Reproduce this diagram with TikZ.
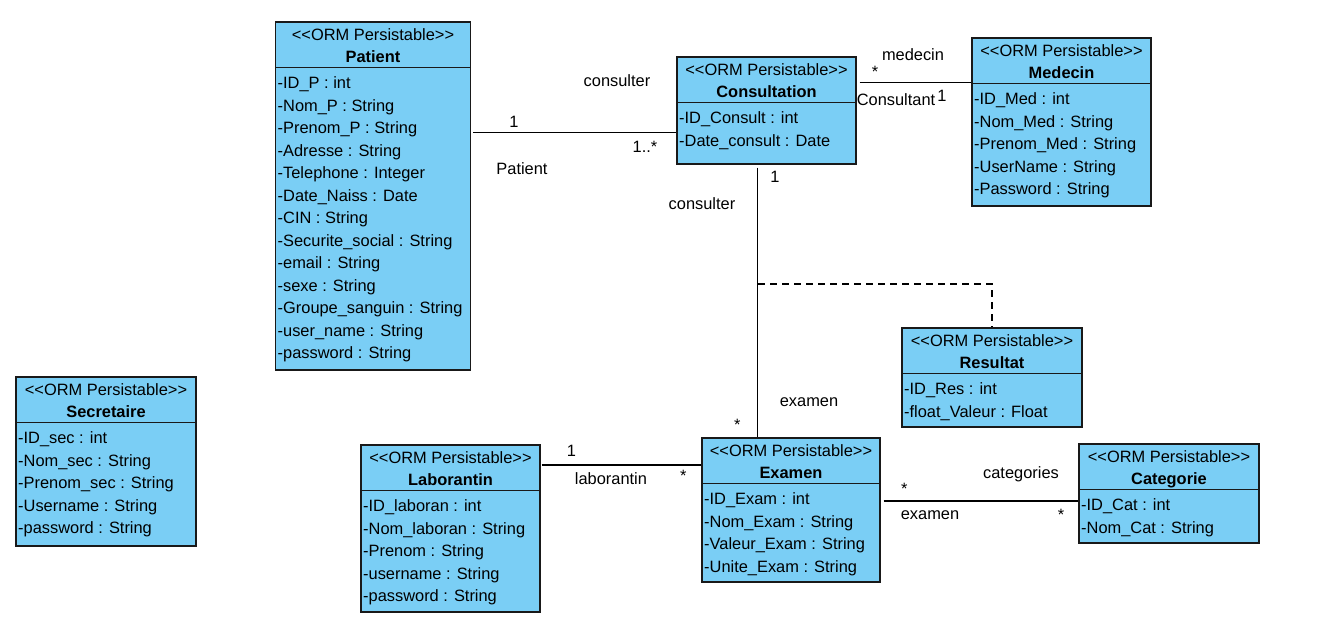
\documentclass[tikz,border=0pt]{standalone}
\usepackage{fontspec}
\setmainfont{Liberation Sans}[Ligatures=TeXOff]
\usetikzlibrary{fit,calc}
\definecolor{clsfill}{RGB}{122,206,245}
\definecolor{clsdraw}{RGB}{25,25,25}
\newcommand{\lblfont}{\fontsize{16.4}{20}\selectfont}
\tikzset{
  clsbox/.style={draw=clsdraw, fill=clsfill, line width=1.4pt, inner sep=0pt, rectangle},
  clsline/.style={draw=clsdraw, line width=1.4pt},
  txt/.style={inner sep=0pt, font=\lblfont, anchor=base},
  assoc/.style={draw=black, line width=1.4pt},
  dashline/.style={draw=black, line width=1.3pt, dash pattern=on 7pt off 5pt}
}
\newcommand{\umlcls}[7]{%
  \node[clsbox, fit={(#2,#3) (#4,#5)}] (#1) {};
  \draw[clsline] (#2,#3+45.5) -- (#4,#3+45.5);
  \node[txt] (#1-st) at ($(#1.north)+(0,19.5)$) {<<ORM Persistable>>};
  \node[txt, font=\lblfont\bfseries] (#1-nm) at ($(#1.north)+(0,41)$) {#6};
  \foreach \a [count=\i] in {#7} {%
    \node[txt, anchor=base west] (#1-a\i) at (#2+2, #3+66.5+\i*22.5-22.5) {\a};}%
}
\begin{document}
\begin{tikzpicture}[x=1pt, y=-1pt]
\useasboundingbox (0,0) rectangle (1342,640);
\fill[white] (0,0) rectangle (1342,640);

\umlcls{patient}{275.5}{22}{470.5}{370}{Patient}{-ID\_P : int,-Nom\_P : String,-Prenom\_P : String,-Adresse : String,-Telephone : Integer,-Date\_Naiss : Date,-CIN : String,-Securite\_social : String,-email : String,-sexe : String,-Groupe\_sanguin : String,-user\_name : String,-password : String}
\umlcls{consult}{677}{57}{856}{164}{Consultation}{-ID\_Consult : int,-Date\_consult : Date}
\umlcls{medecin}{972}{38}{1151}{206}{Medecin}{-ID\_Med : int,-Nom\_Med : String,-Prenom\_Med : String,-UserName : String,-Password : String}
\umlcls{resultat}{902}{328}{1082}{427}{Resultat}{-ID\_Res : int,-float\_Valeur : Float}
\umlcls{categorie}{1079}{444}{1259}{543}{Categorie}{-ID\_Cat : int,-Nom\_Cat : String}
\umlcls{secretaire}{16}{377}{196}{546}{Secretaire}{-ID\_sec : int,-Nom\_sec : String,-Prenom\_sec : String,-Username : String,-password : String}
\umlcls{laborantin}{361}{445}{540}{612}{Laborantin}{-ID\_laboran : int,-Nom\_laboran : String,-Prenom : String,-username : String,-password : String}
\umlcls{examen}{702}{438}{880}{582}{Examen}{-ID\_Exam : int,-Nom\_Exam : String,-Valeur\_Exam : String,-Unite\_Exam : String}

% associations
\draw[assoc] ($(patient.north east)+(2,111)$) -- ($(consult.north west)+(0,76)$);
\draw[assoc] ($(consult.north east)+(3,26.3)$) -- ($(medecin.north west)+(0,45.3)$);
\draw[assoc] ($(consult.south west)+(81.3,3)$) -- ($(examen.north west)+(56.3,0)$);
\coordinate (dj) at (758.3,284);
\draw[dashline] (dj) -| (resultat.north);
\draw[assoc] ($(laborantin.north east)+(1,20.5)$) -- ($(examen.north west)+(0,27.5)$);
\draw[assoc] ($(examen.north east)+(3,63.5)$) -- ($(categorie.north west)+(0,57.5)$);

% labels
\node[txt] (l1) at (617,86.7) {consulter};
\node[txt] (l2) at (514,127.3) {1};
\node[txt] (l3) at (645,152) {1..*};
\node[txt] (l4) at (522,174) {Patient};
\node[txt] (l5) at (875,77.8) {*};
\node[txt] (l6) at (913,60.7) {medecin};
\node[txt] (l7) at (896,105) {Consultant};
\node[txt] (l8) at (942,101.7) {1};
\node[txt] (l9) at (775,182.7) {1};
\node[txt] (l10) at (702,209) {consulter};
\node[txt] (l11) at (809,406) {examen};
\node[txt] (l12) at (737.3,430) {*};
\node[txt] (l13) at (571.4,456.7) {1};
\node[txt] (l14) at (611,484) {laborantin};
\node[txt] (l15) at (683.3,481) {*};
\node[txt] (l16) at (904.3,494.5) {*};
\node[txt] (l17) at (930,519.3) {examen};
\node[txt] (l18) at (1021,478.5) {categories};
\node[txt] (l19) at (1061,520) {*};
\end{tikzpicture}
\end{document}
